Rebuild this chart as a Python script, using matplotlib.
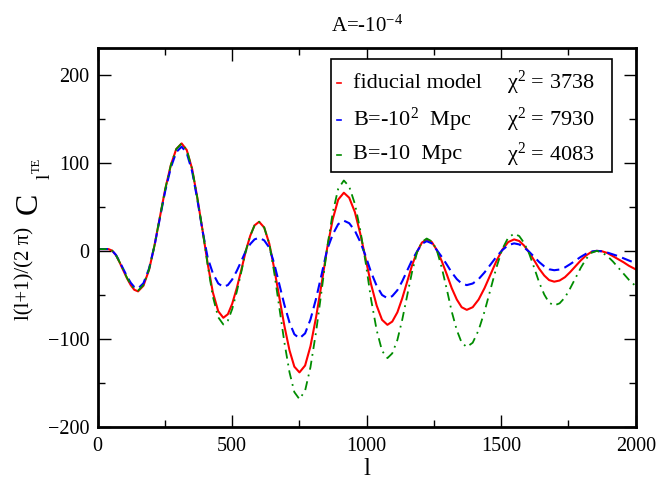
import matplotlib
matplotlib.use("Agg")
import matplotlib.pyplot as plt
from matplotlib.patches import Rectangle

plt.rcParams['font.family'] = ['Liberation Serif', 'DejaVu Serif']
plt.rcParams['mathtext.fontset'] = 'custom'
plt.rcParams['mathtext.rm'] = 'Liberation Serif'
plt.rcParams['mathtext.it'] = 'Liberation Serif:italic'
plt.rcParams['mathtext.bf'] = 'Liberation Serif:bold'

# multipole l
ell = [0, 40, 54, 68, 81, 95, 109, 123, 136,
       150, 170, 191, 211, 231, 251, 272, 292,
       312, 331, 351, 370, 390, 409, 428, 448,
       467, 484, 500, 517, 534, 550, 567, 583,
       600, 619, 638, 656, 675, 694, 713, 731,
       750, 771, 791, 812, 833, 853, 874, 894,
       915, 935, 956, 976, 996, 1016, 1037, 1057,
       1077, 1095, 1114, 1132, 1150, 1168, 1187, 1205,
       1223, 1242, 1260, 1279, 1298, 1316, 1335, 1353,
       1372, 1394, 1416, 1438, 1460, 1482, 1504, 1526,
       1548, 1567, 1585, 1604, 1623, 1641, 1660, 1678,
       1697, 1717, 1737, 1756, 1776, 1796, 1816, 1835,
       1855, 1875, 1895, 1915, 1935, 1955, 1975, 2000]

fiducial = [2, 2, 0.2, -5, -12.8, -22, -31.2, -39, -44.2,
            -46, -39.6, -21.5, 5.9, 38, 70.1, 97.5, 115.6,
            122, 114.5, 93.1, 60.8, 23, -14.8, -47.1, -68.5,
            -76, -71.9, -60.1, -42.3, -21.5, -0.7, 17.1, 28.9,
            33, 26.5, 8, -19.8, -52.5, -85.2, -113, -131.5,
            -138, -130.2, -108.2, -75, -36, 3, 36.2, 58.2,
            66, 60.3, 44.1, 19.6, -9, -37.7, -62.1, -78.3,
            -84, -80.3, -69.8, -54, -35.5, -17, -1.2, 9.3,
            13, 10, 1.3, -11.7, -27, -42.3, -55.3, -64,
            -67, -64, -55.3, -42.3, -27, -11.7, 1.3, 10,
            13, 11.2, 6, -1.8, -11, -20.2, -28, -33.2,
            -35, -33.7, -29.9, -24.2, -17.5, -10.8, -5.1, -1.3,
            0, -0.5, -2.5, -6, -9.5, -13, -17, -21]

b_1e2 = [2, 2, 0.2, -4.7, -11.9, -20.5, -29, -36.3, -41.1,
         -42.8, -36.8, -20, 5.7, 36.9, 68, 94.6, 112.1,
         118.3, 111.1, 90.3, 59, 22.3, -8, -25.4, -37,
         -41, -38.8, -32.5, -22.8, -11.6, -0.4, 7.7, 13,
         14.9, 11.9, 3.6, -14.3, -37.8, -61.3, -81.4, -94.7,
         -99.4, -93.7, -77.9, -54, -25.9, 1.6, 18.8, 30.3,
         34.3, 31.4, 22.9, 10.2, -5.8, -24.1, -39.7, -50.1,
         -53.8, -51.4, -44.7, -34.6, -22.7, -10.9, -0.8, 7.9,
         11, 8.5, 1.1, -6.8, -15.7, -24.5, -32.1, -37.1,
         -38.9, -37.1, -32.1, -24.5, -15.7, -6.8, 0.8, 6.5,
         8.5, 7.3, 3.9, -1.1, -6.9, -12.7, -17.6, -20.9,
         -22, -21.2, -18.8, -15.2, -11, -6.8, -3.2, -0.8,
         0, -0.5, -2, -4, -6, -8.5, -11, -14]

b_10 = [2, 2, 0.2, -4.9, -12.5, -21.6, -30.6, -38.2, -43.3,
        -45.1, -38.8, -21.1, 5.9, 38, 70.1, 97.5, 115.6,
        122, 114.5, 93.1, 60.8, 23, -16.3, -51.8, -75.4,
        -83.6, -79.1, -66.1, -46.5, -23.7, -0.8, 17.1, 28.9,
        33, 26.5, 8, -24.2, -64.1, -103.9, -137.9, -160.4,
        -168.4, -158.8, -132, -91.5, -43.9, 3.6, 43.8, 70.4,
        79.9, 73, 53.4, 23.7, -13.1, -54.7, -90, -113.5,
        -121.8, -116.4, -101.2, -78.3, -51.5, -24.7, -1.7, 10,
        14, 10.8, 1.4, -19.1, -44, -68.9, -90.1, -104.3,
        -109.2, -104.3, -90.1, -68.9, -44, -19.1, 2, 15,
        19.5, 16.8, 9, -3.2, -19.5, -35.8, -49.6, -58.8,
        -62, -59.6, -52.9, -42.8, -31, -19.1, -9, -2.3,
        0, -2, -6, -12, -19, -26, -33, -40]

labels = ["fiducial model", "B=-10$^{2}$  Mpc", "B=-10  Mpc"]
chi2 = [3738, 7930, 4083]
xticks = [0, 500, 1000, 1500, 2000]
yticks = [-200, -100, 0, 100, 200]

fig = plt.figure(figsize=(6.57, 4.84), dpi=100)
ax = fig.add_axes([0.1487, 0.1178, 0.8189, 0.7824])

ax.plot(ell, fiducial, color='#ff0000', lw=1.5, solid_joinstyle='round')
ax.plot(ell, b_1e2, color='#0000ff', lw=1.5, dashes=[5, 2.6])
ax.plot(ell, b_10, color='#008c00', lw=1.3, dashes=[5, 2.8, 1, 2.8])

ax.set_xlim(0, 2000)
ax.set_ylim(-200, 230)
ax.set_xticks(xticks)
ax.set_yticks(yticks)
ax.set_xticks([250, 750, 1250, 1750], minor=True)
ax.set_yticks([-150, -50, 50, 150], minor=True)
ax.tick_params(which='both', direction='in', top=True, right=True, width=1.0)
ax.tick_params(which='major', length=9, labelsize=14.5)
ax.tick_params(axis='x', which='major', pad=7)
ax.tick_params(axis='y', which='major', pad=6)
ax.tick_params(which='minor', length=5)
for s in ax.spines.values():
    s.set_linewidth(2.0)

ax.set_title(r"A=-10$^{-4}$", fontsize=15, pad=12)
ax.set_xlabel("l", fontsize=18, labelpad=2)

kw = dict(rotation=90, rotation_mode='anchor', ha='left', va='baseline')
fig.text(29 / 657, 1 - 320 / 484, "l(l+1)/(2 \u03c0)", fontsize=15, **kw)
fig.text(37 / 657, 1 - 214 / 484, "C", fontsize=23, **kw)
fig.text(50 / 657, 1 - 179 / 484, "l", fontsize=14, **kw)
fig.text(40 / 657, 1 - 173 / 484, "TE", fontsize=9, **kw)

# legend box
ax.add_patch(Rectangle((0.4336, 0.6734), 0.5224, 0.2984, transform=ax.transAxes,
                       facecolor='white', edgecolor='black', lw=1.2, zorder=5))
rows = [0.9076, 0.8107, 0.7183]
cols = ['#ff0000', '#0000ff', '#008c00']
for i in range(3):
    ax.plot([0.4455, 0.452], [rows[i], rows[i]], transform=ax.transAxes, color=cols[i], lw=1.2, zorder=6)
    ax.text(0.4745, rows[i], labels[i], transform=ax.transAxes, fontsize=16, va='center', ha='left', zorder=7)
    ax.text(0.760, rows[i], "\u03c7$^{2}$ = %d" % chi2[i], transform=ax.transAxes, fontsize=16, va='center', ha='left', zorder=7)

fig.savefig("out.png", dpi=100)
